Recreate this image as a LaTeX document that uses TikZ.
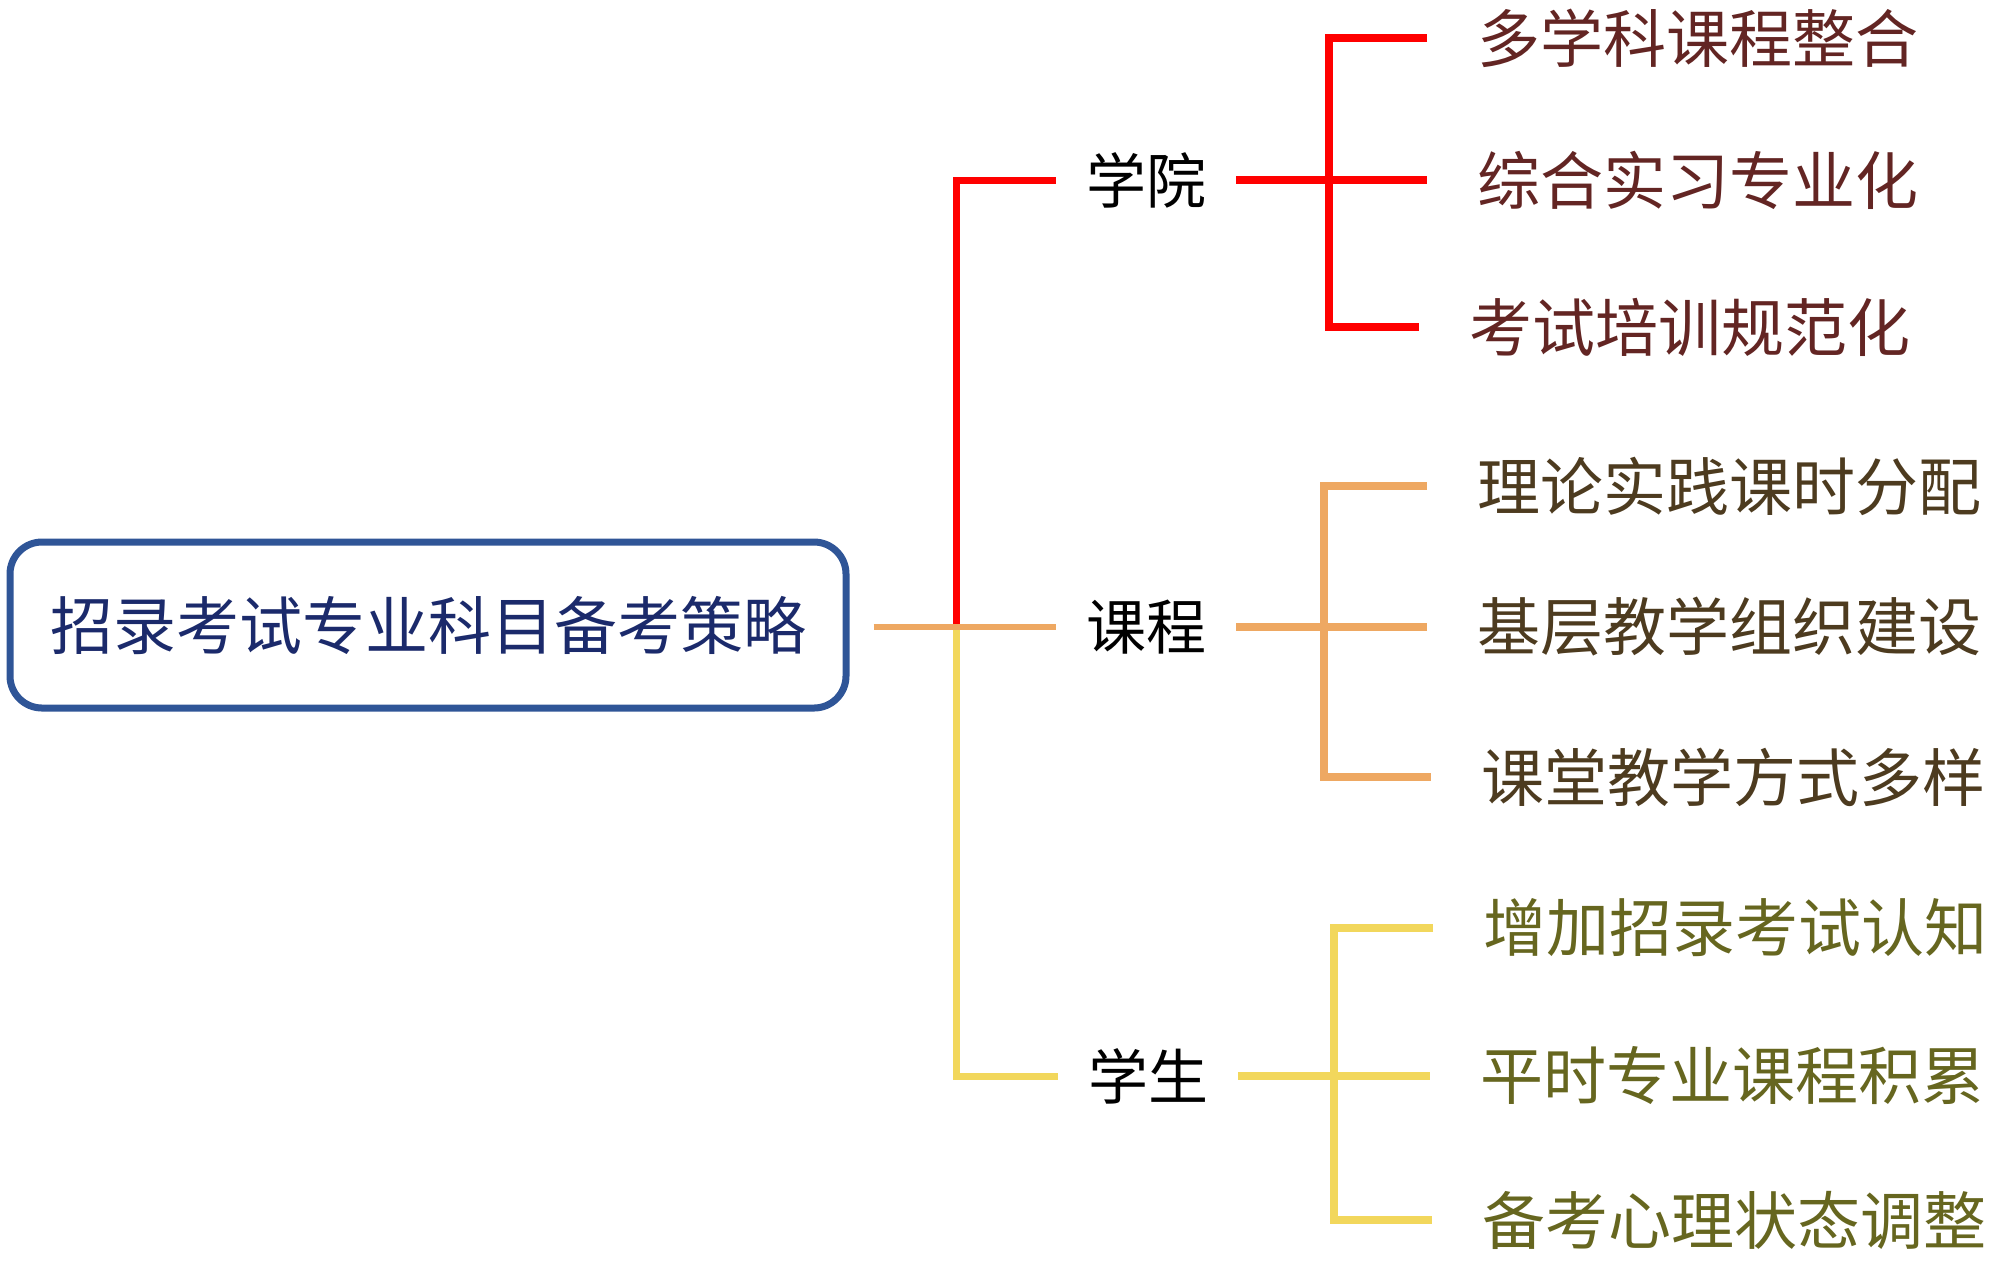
\documentclass[tikz,border=0pt]{standalone}
\usepackage{fontspec}
\setmainfont{Noto Sans CJK SC}
\definecolor{mainblue}{HTML}{2F5597}
\definecolor{maintext}{HTML}{1B2A6B}
\definecolor{redc}{HTML}{FF0000}
\definecolor{orac}{HTML}{EEA862}
\definecolor{yelc}{HTML}{F2D75C}
\definecolor{redtext}{HTML}{632523}
\definecolor{oratext}{HTML}{4D3B1F}
\definecolor{yeltext}{HTML}{66661F}
\begin{document}
\begin{tikzpicture}[x=0.5pt,y=-0.5pt,
  mainbox/.style={draw=mainblue, line width=3.5pt, rounded corners=16pt, minimum width=418pt, minimum height=83pt, text=maintext, inner sep=0pt},
  lvlone/.style={font=\fontsize{30}{36}\selectfont, text=black, inner xsep=15pt, inner ysep=0pt},
  leaf/.style={anchor=west, inner xsep=25pt, inner ysep=0pt, font=\fontsize{31.5}{38}\selectfont},
  trunk/.style={line width=3.5pt},
  twig/.style={line width=4pt}
]
\useasboundingbox (0,0) rectangle (2000,1266);
% root
\node[mainbox, font=\fontsize{31.5}{38}\selectfont] (root) at (428,625) {招录考试专业科目备考策略};
% level one
\node[lvlone] (xy) at (1146,180) {学院};
\node[lvlone] (kc) at (1146,627) {课程};
\node[lvlone] (xs) at (1148,1076) {学生};
\coordinate (j0) at (956,627);
\draw[trunk,redc] (j0) |- (xy.west);
\draw[trunk,yelc] (j0) |- (xs.west);
\draw[line width=3pt,orac,shorten <=12pt] (root.east |- kc.west) -- (kc.west);
% red branch
\coordinate (r) at (1329,180);
\node[leaf,text=redtext] (r1) at (1427,38) {多学科课程整合};
\node[leaf,text=redtext] (r2) at (1427,180) {综合实习专业化};
\node[leaf,text=redtext] (r3) at (1419,327) {考试培训规范化};
\draw[twig,redc] (xy.east) -- (r2.west);
\draw[twig,redc] (r1.west) -- (r1.west -| r) -- (r3.west -| r) -- (r3.west);
% orange branch
\coordinate (o) at (1324,627);
\node[leaf,text=oratext] (o1) at (1427,486) {理论实践课时分配};
\node[leaf,text=oratext] (o2) at (1427,627) {基层教学组织建设};
\node[leaf,text=oratext] (o3) at (1431,777) {课堂教学方式多样};
\draw[twig,orac] (kc.east) -- (o2.west);
\draw[twig,orac] (o1.west) -- (o1.west -| o) -- (o3.west -| o) -- (o3.west);
% yellow branch
\coordinate (y) at (1334,1076);
\node[leaf,text=yeltext] (y1) at (1433,928) {增加招录考试认知};
\node[leaf,text=yeltext] (y2) at (1430,1076) {平时专业课程积累};
\node[leaf,text=yeltext] (y3) at (1432,1220) {备考心理状态调整};
\draw[twig,yelc] (xs.east) -- (y2.west);
\draw[twig,yelc] (y1.west) -- (y1.west -| y) -- (y3.west -| y) -- (y3.west);
\end{tikzpicture}
\end{document}
